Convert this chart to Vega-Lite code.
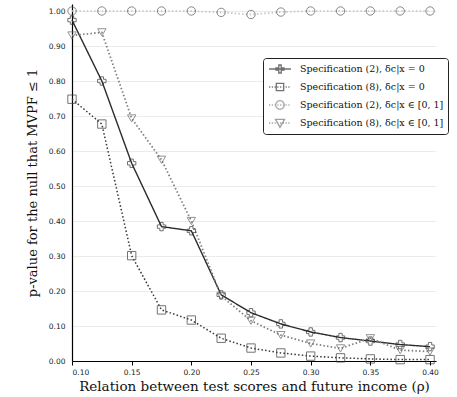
{
  "$schema": "https://vega.github.io/schema/vega-lite/v6.json",
  "width": 364,
  "height": 357,
  "autosize": "none",
  "padding": {"left": 72, "top": 4, "right": 21, "bottom": 36},
  "background": "white",
  "config": {"view": {"stroke": null}},
  "data": {"values": [
    {"rho": 0.1, "p": 0.974, "series": "A"},
    {"rho": 0.125, "p": 0.80, "series": "A"},
    {"rho": 0.15, "p": 0.565, "series": "A"},
    {"rho": 0.175, "p": 0.384, "series": "A"},
    {"rho": 0.2, "p": 0.372, "series": "A"},
    {"rho": 0.225, "p": 0.189, "series": "A"},
    {"rho": 0.25, "p": 0.138, "series": "A"},
    {"rho": 0.275, "p": 0.106, "series": "A"},
    {"rho": 0.3, "p": 0.083, "series": "A"},
    {"rho": 0.325, "p": 0.067, "series": "A"},
    {"rho": 0.35, "p": 0.057, "series": "A"},
    {"rho": 0.375, "p": 0.047, "series": "A"},
    {"rho": 0.4, "p": 0.041, "series": "A"},
    {"rho": 0.1, "p": 0.748, "series": "B"},
    {"rho": 0.125, "p": 0.677, "series": "B"},
    {"rho": 0.15, "p": 0.301, "series": "B"},
    {"rho": 0.175, "p": 0.146, "series": "B"},
    {"rho": 0.2, "p": 0.117, "series": "B"},
    {"rho": 0.225, "p": 0.065, "series": "B"},
    {"rho": 0.25, "p": 0.037, "series": "B"},
    {"rho": 0.275, "p": 0.023, "series": "B"},
    {"rho": 0.3, "p": 0.014, "series": "B"},
    {"rho": 0.325, "p": 0.009, "series": "B"},
    {"rho": 0.35, "p": 0.006, "series": "B"},
    {"rho": 0.375, "p": 0.004, "series": "B"},
    {"rho": 0.4, "p": 0.004, "series": "B"},
    {"rho": 0.1, "p": 1.0, "series": "C"},
    {"rho": 0.125, "p": 1.0, "series": "C"},
    {"rho": 0.15, "p": 1.0, "series": "C"},
    {"rho": 0.175, "p": 1.0, "series": "C"},
    {"rho": 0.2, "p": 1.0, "series": "C"},
    {"rho": 0.225, "p": 0.996, "series": "C"},
    {"rho": 0.25, "p": 0.99, "series": "C"},
    {"rho": 0.275, "p": 0.997, "series": "C"},
    {"rho": 0.3, "p": 1.0, "series": "C"},
    {"rho": 0.325, "p": 1.0, "series": "C"},
    {"rho": 0.35, "p": 1.0, "series": "C"},
    {"rho": 0.375, "p": 1.0, "series": "C"},
    {"rho": 0.4, "p": 1.0, "series": "C"},
    {"rho": 0.1, "p": 0.93, "series": "D"},
    {"rho": 0.125, "p": 0.939, "series": "D"},
    {"rho": 0.15, "p": 0.693, "series": "D"},
    {"rho": 0.175, "p": 0.575, "series": "D"},
    {"rho": 0.2, "p": 0.40, "series": "D"},
    {"rho": 0.225, "p": 0.186, "series": "D"},
    {"rho": 0.25, "p": 0.115, "series": "D"},
    {"rho": 0.275, "p": 0.074, "series": "D"},
    {"rho": 0.3, "p": 0.05, "series": "D"},
    {"rho": 0.325, "p": 0.036, "series": "D"},
    {"rho": 0.35, "p": 0.065, "series": "D"},
    {"rho": 0.375, "p": 0.031, "series": "D"},
    {"rho": 0.4, "p": 0.027, "series": "D"}
  ]},
  "encoding": {
    "x": {
      "field": "rho", "type": "quantitative",
      "scale": {"domain": [0.1, 0.405], "nice": false, "zero": false},
      "axis": {
        "values": [0.1, 0.15, 0.2, 0.25, 0.3, 0.35, 0.4],
        "format": ".2f", "grid": false,
        "ticks": true, "tickSize": 4, "tickColor": "#000", "tickWidth": 1,
        "domainColor": "#000", "domainWidth": 1.2,
        "labelFont": "DejaVu Sans", "labelFontSize": 7.5, "labelColor": "#222", "labelPadding": 3,
        "title": "Relation between test scores and future income (ρ)",
        "titleFont": "DejaVu Serif", "titleFontSize": 13.5, "titleFontWeight": "normal", "titleColor": "#111", "titlePadding": 4
      }
    },
    "y": {
      "field": "p", "type": "quantitative",
      "scale": {"domain": [0, 1.02], "nice": false, "zero": true},
      "axis": {
        "values": [0, 0.1, 0.2, 0.3, 0.4, 0.5, 0.6, 0.7, 0.8, 0.9, 1.0],
        "format": ".2f", "grid": true, "gridColor": "#ebebeb", "gridWidth": 1,
        "ticks": false,
        "domainColor": "#000", "domainWidth": 1.2,
        "labelFont": "DejaVu Sans", "labelFontSize": 7.5, "labelColor": "#222", "labelPadding": 7,
        "title": "p-value for the null that MVPF ≤ 1",
        "titleFont": "DejaVu Serif", "titleFontSize": 13, "titleFontWeight": "normal", "titleColor": "#111", "titlePadding": 9
      }
    }
  },
  "layer": [
    {
      "mark": {"type": "line"},
      "encoding": {
        "color": {"field": "series", "type": "nominal", "legend": null,
          "scale": {"domain": ["A", "B", "C", "D"], "range": ["#2b2b2b", "#3a3a3a", "#c4c4c4", "#808080"]}},
        "strokeDash": {"field": "series", "type": "nominal", "legend": null,
          "scale": {"domain": ["A", "B", "C", "D"], "range": [[1, 0], [1.5, 2.2], [1.5, 2.2], [1.5, 2.2]]}},
        "strokeWidth": {"field": "series", "type": "nominal", "legend": null,
          "scale": {"domain": ["A", "B", "C", "D"], "range": [1.4, 1.8, 1.6, 1.8]}}
      }
    },
    {
      "mark": {"type": "point", "filled": false, "size": 70, "strokeWidth": 1},
      "encoding": {
        "shape": {"field": "series", "type": "nominal", "legend": null,
          "scale": {"domain": ["A", "B", "C", "D"], "range": ["cross", "square", "circle", "triangle-down"]}},
        "stroke": {"field": "series", "type": "nominal", "legend": null,
          "scale": {"domain": ["A", "B", "C", "D"], "range": ["#333333", "#3a3a3a", "#555555", "#666666"]}}
      }
    },
    {
      "transform": [{"filter": "datum.p > 5"}],
      "mark": {"type": "point", "filled": false},
      "encoding": {
        "shape": {"field": "series", "type": "nominal",
          "scale": {"domain": ["A", "B", "C", "D"], "range": [
            "M-1.83,0H1.83M-0.2,-0.67H0.2V-0.2H0.67V0.2H0.2V0.67H-0.2V0.2H-0.67V-0.2H-0.2Z",
            "M-1.83,0h0.2M-1.37,0h0.2M-0.91,0h0.2M-0.45,0h0.2M0.01,0h0.2M0.47,0h0.2M0.93,0h0.2M1.39,0h0.2M-0.62,-0.62H0.62V0.62H-0.62Z",
            "M-1.83,0h0.2M-1.37,0h0.2M-0.91,0h0.2M-0.45,0h0.2M0.01,0h0.2M0.47,0h0.2M0.93,0h0.2M1.39,0h0.2M-0.72,0A0.72,0.72,0,1,0,0.72,0A0.72,0.72,0,1,0,-0.72,0Z",
            "M-1.83,0h0.2M-1.37,0h0.2M-0.91,0h0.2M-0.45,0h0.2M0.01,0h0.2M0.47,0h0.2M0.93,0h0.2M1.39,0h0.2M-0.75,-0.62H0.75L0,0.72Z"
          ]},
          "legend": {
            "orient": "none", "legendX": 191, "legendY": 54, "title": null,
            "labelExpr": "{'A': 'Specification (2), δc|x = 0', 'B': 'Specification (8), δc|x = 0', 'C': 'Specification (2), δc|x ∈ [0, 1]', 'D': 'Specification (8), δc|x ∈ [0, 1]'}[datum.label]",
            "labelFont": "DejaVu Serif", "labelFontSize": 9.5, "labelColor": "#111",
            "symbolSize": 144, "symbolStrokeWidth": 1.3, "symbolOffset": 6, "labelOffset": 13,
            "rowPadding": 4, "padding": 4, "strokeColor": "#222", "cornerRadius": 3, "fillColor": "white"
          }
        },
        "stroke": {"field": "series", "type": "nominal",
          "scale": {"domain": ["A", "B", "C", "D"], "range": ["#333333", "#3a3a3a", "#888888", "#777777"]},
          "legend": {
            "orient": "none", "legendX": 191, "legendY": 54, "title": null,
            "labelExpr": "{'A': 'Specification (2), δc|x = 0', 'B': 'Specification (8), δc|x = 0', 'C': 'Specification (2), δc|x ∈ [0, 1]', 'D': 'Specification (8), δc|x ∈ [0, 1]'}[datum.label]",
            "labelFont": "DejaVu Serif", "labelFontSize": 9.5, "labelColor": "#111",
            "symbolSize": 144, "symbolStrokeWidth": 1.3, "symbolOffset": 6, "labelOffset": 13,
            "rowPadding": 4, "padding": 4, "strokeColor": "#222", "cornerRadius": 3, "fillColor": "white"
          }
        }
      }
    }
  ],
  "resolve": {"scale": {"shape": "independent", "stroke": "independent"}}
}
